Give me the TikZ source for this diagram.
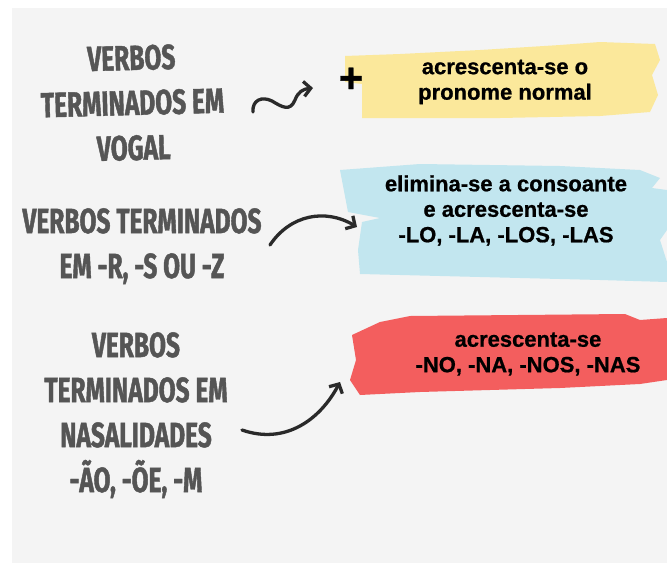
\documentclass[tikz,border=0pt]{standalone}
\usepackage{fontspec}
\usepackage{tikz}
\usetikzlibrary{positioning,arrows.meta}
\newfontfamily\headfont[FakeStretch=0.7, BoldFeatures={FakeBold=1.2}]{Fira Sans}
\newfontfamily\bandfont[BoldFeatures={FakeBold=0.8}]{Liberation Sans}
\definecolor{panel}{HTML}{F4F4F4}
\definecolor{headgray}{HTML}{555555}
\definecolor{inkgray}{HTML}{2A2A2A}
\definecolor{bandyellow}{HTML}{FBE89B}
\definecolor{bandblue}{HTML}{C2E6EF}
\definecolor{bandred}{HTML}{F35E5E}
\tikzset{
  headtext/.style={text=headgray, align=center, inner sep=0pt, anchor=north,
                   font=\headfont\bfseries\fontsize{35}{45}\selectfont},
  bandtext/.style={align=center, inner sep=0pt,
                   font=\bandfont\bfseries\fontsize{22}{25.5}\selectfont},
  brush/.style={->, line width=3.3pt, draw=inkgray, line cap=round,
                >={Straight Barb[length=7pt,width=15pt]}},
}

\begin{document}
\begin{tikzpicture}[x=1pt, y=-1pt]
  \useasboundingbox (0,0) rectangle (667,563);
  \fill[white] (0,0) rectangle (667,563);
  \fill[panel] (12,8) rectangle (667,563);

  % brush strokes behind the text
  \fill[bandyellow] (345,56) -- (400,54) -- (480,50) -- (560,45) -- (600,42) -- (655,44)
    -- (660,60) -- (652,75) -- (658,95) -- (650,112) -- (600,116) -- (500,118)
    -- (362,118) -- (362,84) -- (345,82) -- cycle;
  \fill[bandblue] (340,170) -- (420,164) -- (560,166) -- (640,170) -- (660,178) -- (652,188)
    -- (667,190) -- (667,230) -- (660,240) -- (667,262) -- (667,282) -- (600,280)
    -- (480,277) -- (360,274) -- (358,250) -- (362,222) -- (380,218) -- (348,212) -- cycle;
  \fill[bandred] (352,335) -- (380,322) -- (410,316) -- (625,314) -- (640,320) -- (667,318)
    -- (667,380) -- (640,384) -- (560,388) -- (420,392) -- (360,395) -- (350,380)
    -- (356,360) -- cycle;

  \node[headtext, rotate=1.5] (vogal) at (131,45) {VERBOS\\TERMINADOS EM\\VOGAL};
  \node[headtext] (consoante) at (142,208) {VERBOS TERMINADOS\\EM -R, -S OU -Z};
  \node[headtext] (nasal) at (136,332) {VERBOS\\TERMINADOS EM\\NASALIDADES\\-ÃO, -ÕE, -M};

  \node[bandtext] (pronome) at (505,82) {acrescenta-se o\\pronome normal};
  \node[bandtext] (lolas) at (506,210.5) {elimina-se a consoante\\e acrescenta-se\\-LO, -LA, -LOS, -LAS};
  \node[bandtext] (nonas) at (528,354) {acrescenta-se\\-NO, -NA, -NOS, -NAS};
  \node[font=\bandfont\bfseries\fontsize{42}{42}\selectfont, inner sep=0pt] (plus) at (351,80) {+};

  \coordinate (sqstart) at (253,112);
  \coordinate (sqend) at (313,88);
  \coordinate (c2start) at (270,245);
  \coordinate (c2end) at (357,227);
  \coordinate (c3start) at (242,430);
  \coordinate (c3end) at (340,382);

  \draw[brush] (sqstart) .. controls (252,100) and (262,96) .. (272,101)
    .. controls (282,107) and (290,112) .. (295,100)
    .. controls (298,92) and (303,89) .. (sqend);
  \draw[brush] (c2start) .. controls (290,215) and (325,208) .. (c2end);
  \draw[brush] (c3start) .. controls (285,445) and (320,420) .. (c3end);
\end{tikzpicture}
\end{document}
